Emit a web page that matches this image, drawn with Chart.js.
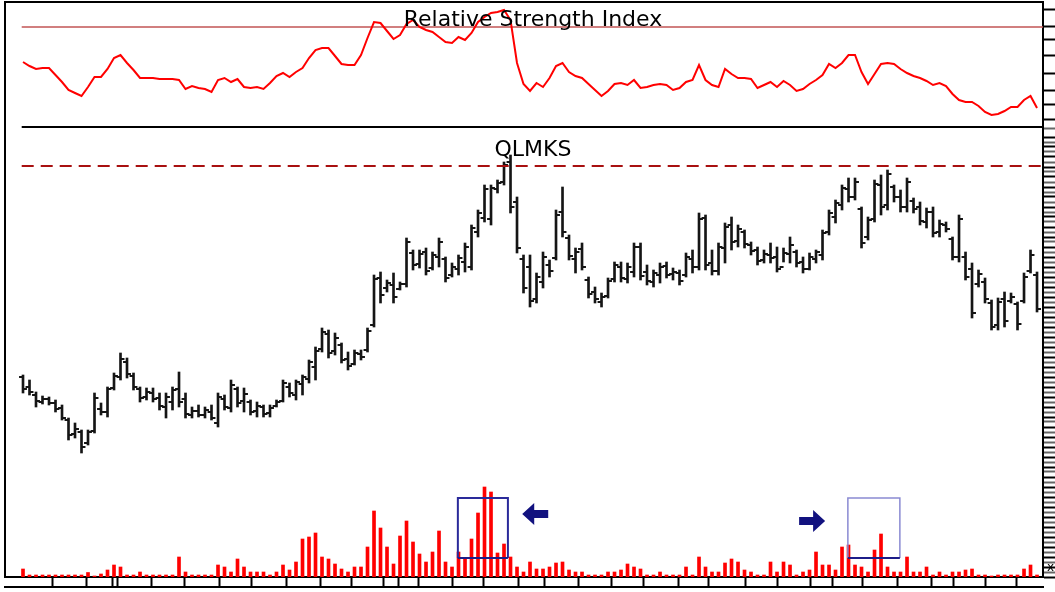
<!DOCTYPE html>
<html>
<head>
<meta charset="utf-8">
<title>QLMKS</title>
<script src="https://cdn.jsdelivr.net/npm/chart.js@4.4.0/dist/chart.umd.min.js"></script>
<style>
  html, body { margin: 0; padding: 0; background: #ffffff; }
  #wrap { width: 1055px; height: 592px; }
</style>
</head>
<body>
<div id="wrap"><canvas id="chart" width="1055" height="592"></canvas></div>
<script>
// Daily bars, oldest first (bar index 0 .. 156)
const highs = [
  20.2, 19.7, 18.5, 18.1, 18.0, 17.7, 17.2, 15.9, 15.4, 14.7,
  14.7, 18.4, 17.4, 19.0, 20.4, 22.4, 21.9, 20.4, 19.0, 18.9,
  18.9, 18.4, 18.4, 19.0, 20.5, 18.4, 17.0, 17.2, 17.0, 17.2,
  18.4, 18.2, 19.7, 19.0, 18.9, 17.7, 17.5, 17.2, 17.2, 17.7,
  19.7, 19.4, 19.7, 20.2, 21.7, 23.0, 24.9, 24.7, 24.4, 23.4,
  22.5, 22.7, 22.7, 24.9, 30.2, 30.5, 29.7, 30.4, 29.5, 33.9,
  32.7, 32.7, 32.9, 32.5, 33.9, 32.0, 31.4, 32.2, 33.4, 35.2,
  36.7, 39.2, 39.2, 39.7, 41.5, 42.2, 38.0, 32.2, 32.2, 30.4,
  32.5, 31.7, 36.7, 39.0, 34.2, 32.9, 33.4, 30.0, 29.0, 28.4,
  29.9, 31.5, 31.5, 31.4, 33.4, 33.4, 31.2, 30.7, 31.4, 31.5,
  30.9, 30.7, 32.4, 32.7, 36.4, 36.2, 32.7, 33.4, 35.4, 36.0,
  35.2, 34.7, 33.5, 33.0, 32.7, 33.4, 33.0, 32.9, 34.0, 32.7,
  32.0, 32.4, 32.7, 34.7, 36.7, 37.7, 39.2, 39.9, 39.9, 37.0,
  36.0, 39.7, 40.2, 40.7, 39.2, 38.7, 39.9, 37.9, 37.5, 36.9,
  37.0, 35.7, 35.5, 34.0, 36.2, 32.5, 31.4, 30.7, 29.9, 27.7,
  27.9, 28.5, 28.4, 27.5, 30.4, 32.7, 30.5
];
const lows = [
  18.4, 18.2, 17.0, 17.3, 17.2, 16.5, 15.7, 13.7, 13.9, 12.4,
  13.2, 14.4, 16.2, 16.0, 18.7, 19.7, 19.9, 18.7, 17.5, 17.7,
  17.5, 16.7, 15.9, 16.7, 17.0, 15.9, 15.9, 16.0, 15.9, 15.7,
  15.0, 16.7, 16.5, 17.0, 16.5, 16.2, 16.0, 16.0, 16.0, 17.0,
  17.5, 18.0, 17.7, 18.2, 19.4, 19.7, 22.5, 21.9, 22.2, 21.4,
  20.7, 21.2, 21.7, 22.5, 25.0, 27.4, 28.5, 27.4, 28.7, 29.0,
  30.7, 30.9, 30.2, 30.7, 31.0, 29.5, 30.0, 30.2, 30.5, 30.7,
  34.0, 35.5, 35.2, 38.4, 39.2, 36.4, 32.4, 28.4, 27.0, 27.4,
  28.9, 30.0, 31.7, 34.0, 31.7, 30.4, 30.7, 27.9, 27.4, 27.0,
  27.9, 29.5, 29.5, 29.4, 30.0, 29.7, 29.2, 29.0, 29.4, 29.9,
  29.7, 29.2, 30.0, 30.4, 30.7, 30.7, 30.2, 30.2, 31.4, 32.7,
  33.0, 32.9, 32.2, 31.2, 31.4, 31.4, 30.5, 31.5, 31.4, 31.0,
  30.4, 30.7, 31.4, 31.7, 34.2, 35.4, 36.7, 37.5, 37.7, 32.9,
  33.7, 35.5, 36.2, 36.7, 37.5, 36.5, 36.5, 36.4, 35.2, 34.9,
  34.0, 34.0, 34.5, 31.7, 31.5, 29.7, 25.9, 29.0, 27.4, 24.7,
  24.7, 25.0, 27.4, 24.7, 27.4, 30.4, 26.5
];
const opens = [
  20.0, 19.0, 18.2, 17.5, 17.8, 17.4, 16.9, 15.7, 14.3, 14.5,
  13.4, 14.6, 16.8, 16.5, 18.9, 20.0, 21.5, 20.1, 18.8, 18.0,
  18.4, 17.9, 17.0, 17.5, 18.8, 17.8, 16.2, 16.6, 16.2, 16.5,
  15.4, 17.8, 16.9, 18.8, 17.6, 17.5, 16.6, 17.0, 16.4, 17.1,
  17.6, 19.0, 18.2, 19.3, 19.8, 21.0, 22.8, 24.3, 22.6, 23.2,
  21.8, 21.3, 22.3, 22.7, 25.2, 29.9, 28.9, 29.2, 28.8, 29.3,
  32.4, 31.3, 32.5, 30.9, 32.0, 31.8, 30.2, 30.8, 31.5, 31.0,
  34.5, 35.9, 35.8, 38.8, 39.5, 41.5, 37.5, 31.8, 31.0, 27.8,
  29.5, 31.2, 31.9, 36.5, 33.9, 31.8, 32.8, 29.7, 28.5, 27.5,
  28.1, 29.8, 31.0, 29.8, 30.5, 33.0, 30.5, 29.5, 30.2, 31.1,
  30.3, 30.4, 30.2, 31.8, 31.0, 35.9, 31.4, 30.6, 32.9, 35.2,
  33.6, 34.5, 33.2, 32.7, 31.7, 32.2, 32.0, 31.0, 32.3, 32.5,
  31.5, 30.8, 31.8, 32.2, 34.5, 36.0, 37.2, 38.8, 38.0, 36.8,
  34.0, 35.8, 39.2, 37.2, 39.0, 38.0, 37.0, 37.6, 37.0, 35.5,
  36.5, 34.5, 35.2, 33.8, 32.0, 32.0, 30.8, 29.3, 29.5, 27.4,
  25.2, 27.8, 27.6, 27.3, 27.6, 30.6, 30.2
];
const closes = [
  18.8, 18.5, 17.6, 17.8, 17.4, 16.8, 15.9, 14.2, 14.8, 13.0,
  14.5, 17.9, 16.5, 18.8, 20.1, 21.8, 20.3, 19.0, 17.9, 18.5,
  17.8, 17.1, 18.0, 18.7, 17.5, 16.3, 16.6, 16.2, 16.7, 15.9,
  18.0, 17.0, 19.2, 17.4, 18.3, 16.5, 17.1, 16.3, 16.9, 17.5,
  19.4, 18.4, 19.5, 20.0, 21.5, 22.6, 24.5, 22.4, 23.9, 21.7,
  21.1, 22.4, 22.0, 24.6, 29.8, 28.2, 29.4, 28.0, 29.3, 33.5,
  31.2, 32.3, 30.6, 32.2, 33.5, 29.9, 31.0, 31.9, 33.0, 34.9,
  36.4, 38.8, 38.9, 39.4, 41.2, 37.0, 32.9, 28.9, 27.6, 30.0,
  32.0, 30.6, 36.2, 34.5, 32.1, 32.5, 31.0, 28.3, 27.8, 28.0,
  29.6, 31.2, 29.9, 31.0, 33.0, 30.1, 29.6, 30.4, 31.0, 30.2,
  30.5, 29.6, 32.0, 31.0, 35.8, 31.2, 30.6, 33.0, 35.0, 33.5,
  34.8, 33.3, 32.6, 31.6, 32.3, 31.9, 30.8, 32.4, 33.2, 31.4,
  30.8, 32.0, 32.5, 34.4, 36.4, 37.4, 38.9, 38.0, 39.5, 33.4,
  35.7, 39.3, 37.0, 40.3, 38.0, 37.0, 39.5, 36.8, 35.6, 36.5,
  34.4, 35.3, 34.8, 32.0, 35.8, 30.0, 26.4, 30.3, 27.8, 25.0,
  27.5, 25.6, 28.0, 25.3, 30.0, 32.2, 26.8
];
// Volume, thousands of shares
const volumes = [
   80,  20,  20,  20,  20,  20,  20,  20,  20,  20,
   45,  10,  30,  70, 120, 100,  20,  20,  50,  20,
   20,  20,  20,  20, 200,  50,  20,  20,  20,  20,
  120, 100,  50, 180, 100,  50,  50,  50,  20,  50,
  120,  70, 150, 380, 400, 440, 200, 180, 130,  80,
   50, 100, 100, 300, 660, 490, 300, 130, 410, 560,
  350, 230, 150, 250, 460, 150, 100, 250, 180, 380,
  640, 900, 850, 240, 330, 200, 100,  50, 150,  80,
   80, 100, 140, 150,  70,  50,  50,  20,  20,  20,
   50,  50,  70, 130, 100,  80,  20,  20,  50,  20,
   20,  20, 100,  20, 200, 100,  50,  50, 140, 180,
  150,  70,  50,  20,  20, 150,  50, 150, 120,  20,
   50,  70, 250, 120, 120,  70, 300, 320, 120, 100,
   50, 270, 430, 100,  50,  50, 200,  50,  50, 100,
   20,  50,  20,  50,  50,  70,  80,  20,  20,  10,
   20,  20,  20,  20,  80, 120,  20
];
// 14-day Relative Strength Index
const rsi = [
  56.0, 54.4, 53.2, 53.6, 53.6, 50.8, 48.0, 44.8, 43.6, 42.4,
  46.0, 50.0, 50.0, 53.2, 57.6, 58.8, 55.6, 52.8, 49.6, 49.6,
  49.6, 49.2, 49.2, 49.2, 48.8, 45.2, 46.4, 45.6, 45.2, 44.0,
  48.8, 49.6, 48.0, 49.2, 46.0, 45.6, 46.0, 45.2, 47.6, 50.4,
  51.6, 50.0, 52.0, 53.6, 57.6, 60.8, 61.6, 61.6, 58.4, 55.2,
  54.8, 54.8, 58.8, 65.6, 72.0, 71.6, 68.4, 65.2, 66.8, 71.2,
  72.8, 70.0, 68.8, 68.0, 66.0, 64.0, 63.6, 66.0, 64.8, 67.6,
  72.0, 74.0, 75.6, 76.0, 76.8, 72.8, 55.6, 47.2, 44.4, 47.6,
  46.0, 49.6, 54.4, 55.6, 52.0, 50.4, 49.6, 47.2, 44.8, 42.4,
  44.4, 47.2, 47.6, 46.8, 48.8, 45.6, 46.0, 46.8, 47.2, 46.8,
  44.8, 45.6, 48.0, 48.8, 54.8, 48.8, 46.8, 46.0, 53.2, 51.2,
  49.6, 49.6, 49.2, 45.6, 46.8, 48.0, 46.0, 48.4, 46.8, 44.4,
  45.2, 47.2, 48.8, 50.8, 55.2, 53.6, 55.6, 58.8, 58.8, 52.0,
  47.2, 51.2, 55.2, 55.6, 55.2, 53.2, 51.6, 50.4, 49.6, 48.4,
  46.8, 47.6, 46.4, 43.2, 40.8, 40.0, 40.0, 38.4, 36.0, 34.8,
  35.2, 36.4, 38.0, 38.0, 40.8, 42.4, 37.6
];
// Week marks on the time axis (in bar index units)
const weekTicks = [4.6, 9.8, 13.8, 14.5, 19.8, 24.9, 30.2, 35.2, 40.5, 45.7, 50.5, 55.4, 57.8, 60.8,
  66.0, 70.9, 76.2, 80.2, 85.4, 90.5, 95.4, 100.9, 105.4, 111.1, 116.0, 121.1, 124.5, 129.2,
  134.6, 139.8, 143.1, 148.0, 152.8];
const rsiTicks = [33, 39, 44.5, 51.5, 58.5, 65, 70, 77];
const rsiUpper = 70;        // overbought level
const priceMarker = 41.1;   // prior high, dashed reference line
const panelFloor = 29.8;    // RSI panel divider
const volumeBoxes = [       // highlighted volume clusters
  { from: 66.9, to: 74.6, low: 190, high: 790 },
  { from: 126.9, to: 134.9, low: 190, high: 790 }
];
const volumeArrows = [      // pointers next to the clusters (tip position)
  { at: 76.8, vol: 630, dir: -1 },
  { at: 123.4, vol: 560, dir: 1 }
];

// ---- datasets built from the arrays ----
const idx = highs.map((_, i) => i);
const rangeData = idx.map(i => ({ x: i, y: [lows[i], highs[i]] }));
const openData = idx.map(i => ({ x: i - 0.3, y: opens[i] }));
const closeData = idx.map(i => ({ x: i + 0.3, y: closes[i] }));
const volData = idx.map(i => ({ x: i, y: volumes[i] }));
const rsiData = idx.map(i => ({ x: i, y: rsi[i] }));
const lineStart = -0.2, lineEnd = 158;
const hLine = v => [{ x: lineStart, y: v }, { x: lineEnd, y: v }];

const BAR_INK = '#151515';
const NAVY = '#12127f';

const decorPlugin = {
  id: 'decor',
  afterDatasetsDraw(chart) {
    const { ctx, scales } = chart;
    const xs = scales.x, vs = scales.yVol;
    ctx.save();
    volumeBoxes.forEach((b, k) => {
      const l = xs.getPixelForValue(b.from), r = xs.getPixelForValue(b.to);
      const t = vs.getPixelForValue(b.high), btm = vs.getPixelForValue(b.low);
      ctx.lineWidth = k === 0 ? 2 : 1.5;
      ctx.strokeStyle = k === 0 ? '#2a2a9a' : '#8a8ad2';
      ctx.beginPath();
      ctx.moveTo(l, btm); ctx.lineTo(l, t); ctx.lineTo(r, t); ctx.lineTo(r, btm);
      ctx.stroke();
      ctx.lineWidth = 2;
      ctx.strokeStyle = '#1c1c88';
      ctx.beginPath();
      ctx.moveTo(l, btm); ctx.lineTo(r, btm);
      ctx.stroke();
    });
    volumeArrows.forEach(a => {
      const tx = xs.getPixelForValue(a.at), ty = vs.getPixelForValue(a.vol);
      const d = a.dir, head = 12, half = 11, shaft = 14, sh = 4;
      ctx.fillStyle = NAVY;
      ctx.beginPath();
      ctx.moveTo(tx, ty);
      ctx.lineTo(tx - d * head, ty - half);
      ctx.lineTo(tx - d * head, ty - sh);
      ctx.lineTo(tx - d * (head + shaft), ty - sh);
      ctx.lineTo(tx - d * (head + shaft), ty + sh);
      ctx.lineTo(tx - d * head, ty + sh);
      ctx.lineTo(tx - d * head, ty + half);
      ctx.closePath();
      ctx.fill();
    });
    ctx.restore();
  },
  afterDraw(chart, args, opts) {
    const { ctx, scales } = chart;
    ctx.save();
    ctx.fillStyle = '#000';
    ctx.textAlign = 'center';
    ctx.textBaseline = 'alphabetic';
    ctx.font = '22px "DejaVu Sans", sans-serif';
    opts.titles.forEach(t => {
      ctx.fillText(t.text, opts.centerX, scales[t.axis].top + t.dy);
    });
    ctx.font = '12px "DejaVu Sans", sans-serif';
    ctx.textAlign = 'left';
    ctx.fillText('x', 1047, 571);
    ctx.restore();
  }
};

const borderOnly = pos => ({
  type: 'linear', position: pos, min: 0, max: 1,
  ticks: { display: false },
  grid: { display: false, drawTicks: false },
  border: { display: true, color: '#000', width: 2 }
});

new Chart(document.getElementById('chart'), {
  type: 'bar',
  data: {
    datasets: [
      { type: 'line', data: hLine(panelFloor), xAxisID: 'x', yAxisID: 'yRsi',
        borderColor: '#000', borderWidth: 3, pointRadius: 0, order: 1 },
      { type: 'line', data: hLine(rsiUpper), xAxisID: 'x', yAxisID: 'yRsi',
        borderColor: '#c25555', borderWidth: 1.5, pointRadius: 0, order: 3 },
      { type: 'line', data: rsiData, xAxisID: 'x', yAxisID: 'yRsi',
        borderColor: '#ff0000', borderWidth: 2, pointRadius: 0, tension: 0, order: 2 },
      { type: 'line', data: hLine(priceMarker), xAxisID: 'x', yAxisID: 'yPrice',
        borderColor: '#a81010', borderWidth: 2, borderDash: [12, 7], pointRadius: 0, order: 4 },
      { type: 'bar', data: volData, xAxisID: 'x', yAxisID: 'yVol', grouped: false,
        barThickness: 3, backgroundColor: '#ff0000', borderWidth: 0, order: 6 },
      { type: 'bar', data: rangeData, xAxisID: 'x', yAxisID: 'yPrice', grouped: false,
        barThickness: 2, backgroundColor: BAR_INK, borderWidth: 0, order: 5 },
      { type: 'scatter', data: openData, xAxisID: 'x', yAxisID: 'yPrice', showLine: false,
        pointStyle: 'line', pointRadius: 2, pointBorderWidth: 2, pointBorderColor: BAR_INK,
        borderColor: BAR_INK, order: 5 },
      { type: 'scatter', data: closeData, xAxisID: 'x', yAxisID: 'yPrice', showLine: false,
        pointStyle: 'line', pointRadius: 2, pointBorderWidth: 2, pointBorderColor: BAR_INK,
        borderColor: BAR_INK, order: 5 }
    ]
  },
  options: {
    responsive: false,
    devicePixelRatio: 1,
    animation: false,
    events: [],
    layout: { autoPadding: false, padding: { left: 5, top: 2, right: 0, bottom: 5 } },
    plugins: {
      legend: { display: false },
      tooltip: { enabled: false },
      decor: {
        centerX: 533,
        titles: [
          { text: 'Relative Strength Index', axis: 'yRsi', dy: 24 },
          { text: 'QLMKS', axis: 'yPrice', dy: 28 }
        ]
      }
    },
    scales: {
      x: {
        type: 'linear', position: 'bottom', min: -2.77, max: 156.92, offset: false,
        afterBuildTicks: s => { s.ticks = weekTicks.map(v => ({ value: v })); },
        ticks: { display: false },
        grid: { display: true, offset: false, drawOnChartArea: false, drawTicks: true,
                tickLength: 10, tickWidth: 2, tickColor: '#000' },
        border: { display: true, color: '#000', width: 2 }
      },
      xBase: borderOnly('bottom'),
      xTop: borderOnly('top'),
      yLeft: borderOnly('left'),
      yRsi: {
        type: 'linear', position: 'right', stack: 'side', stackWeight: 126,
        min: 29.6, max: 80,
        afterBuildTicks: s => { s.ticks = rsiTicks.map(v => ({ value: v })); },
        ticks: { display: false },
        grid: { drawOnChartArea: false, tickLength: 12, tickWidth: 2, tickColor: '#000' },
        border: { display: true, color: '#000', width: 2 }
      },
      yPrice: {
        type: 'linear', position: 'right', stack: 'side', stackWeight: 449,
        min: 0, max: 44.9,
        ticks: { display: false, stepSize: 0.5 },
        grid: { drawOnChartArea: false, tickLength: 12, tickWidth: 2,
                tickColor: c => (c.index % 2 ? '#666' : '#000') },
        border: { display: true, color: '#000', width: 2 }
      },
      yVol: { type: 'linear', position: 'right', display: false, min: 0, max: 5750 }
    }
  },
  plugins: [decorPlugin]
});
</script>
</body>
</html>
